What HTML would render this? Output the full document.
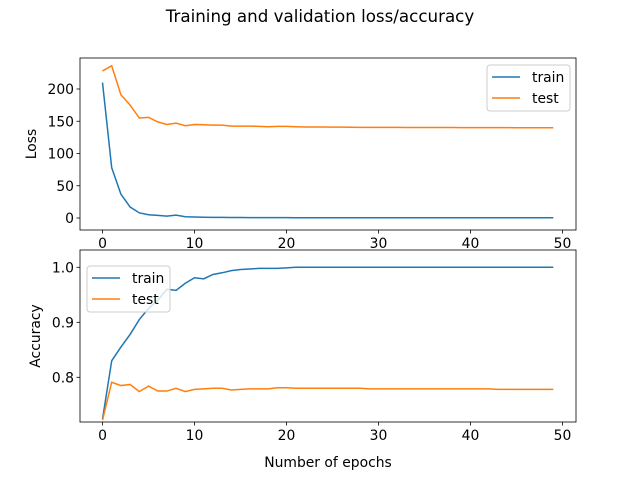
<!DOCTYPE html>
<html><head><meta charset="utf-8"><style>
body{margin:0;background:#fff}
svg{font-family:"DejaVu Sans","Liberation Sans",sans-serif;display:block}
</style></head><body>
<svg id="c" width="640" height="480" xmlns="http://www.w3.org/2000/svg"></svg>
<script>
const epochs = Array.from({length:50},(_,i)=>i);
const lossTrain=[210,78,37,17,8,5,4,3,4.5,2,1.5,1.2,1,0.9,0.8,0.7,0.6,0.6,0.5,0.5,0.5,0.4,0.4,0.4,0.4,0.3,0.3,0.3,0.3,0.3,0.3,0.3,0.3,0.3,0.3,0.3,0.3,0.3,0.3,0.3,0.3,0.3,0.3,0.3,0.3,0.3,0.3,0.3,0.3,0.3];
const lossTest=[228,236,191,175,155,156,149,145,147,143,145,144.5,144,144,142.5,142.5,142.5,142,141.5,142,142,141.5,141,141,141,140.8,140.8,140.7,140.6,140.5,140.5,140.5,140.5,140.4,140.4,140.4,140.3,140.3,140.3,140.2,140.2,140.2,140.2,140.1,140.1,140,140,140,140,140];
const accTrain=[0.724,0.83,0.855,0.878,0.905,0.925,0.94,0.96,0.958,0.971,0.981,0.979,0.987,0.99,0.994,0.996,0.997,0.998,0.998,0.998,0.999,1,1,1,1,1,1,1,1,1,1,1,1,1,1,1,1,1,1,1,1,1,1,1,1,1,1,1,1,1];
const accTest=[0.722,0.791,0.785,0.787,0.774,0.784,0.775,0.775,0.780,0.774,0.778,0.779,0.780,0.780,0.777,0.778,0.779,0.779,0.779,0.781,0.781,0.780,0.780,0.780,0.780,0.780,0.780,0.780,0.780,0.779,0.779,0.779,0.779,0.779,0.779,0.779,0.779,0.779,0.779,0.779,0.779,0.779,0.779,0.778,0.778,0.778,0.778,0.778,0.778,0.778];
const xTicks=[0,10,20,30,40,50];
const lossTicks=[0,50,100,150,200];
const accTicks=[0.8,0.9,1.0];
const NS="http://www.w3.org/2000/svg";
const svg=document.getElementById('c');
function el(t,a,p){const e=document.createElementNS(NS,t);for(const k in a)e.setAttribute(k,a[k]);(p||svg).appendChild(e);return e;}
const L=80,R=576,FS=13.9;
const x=v=>102.5+v*9.2;
function panel(name,top,bot,y,ticks,fmt,s1,s2,ylabel,ylx,legX,legY){
  const g=el('g',{});
  const clip='clip-'+name;
  const cp=el('clipPath',{id:clip},g);el('rect',{x:L,y:top,width:R-L,height:bot-top},cp);
  [[s1,'#1f77b4','train'],[s2,'#ff7f0e','test']].forEach(([s,c,n])=>{
    const p=el('polyline',{points:s.map((v,i)=>x(epochs[i])+','+y(v)).join(' '),fill:'none',stroke:c,'stroke-width':1.5,'clip-path':`url(#${clip})`},g);
    
  });
  el('rect',{x:L,y:top,width:R-L,height:bot-top,fill:'none',stroke:'#000','stroke-width':0.8},g);
  xTicks.forEach(t=>{el('line',{x1:x(t),x2:x(t),y1:bot,y2:bot+3.5,stroke:'#000','stroke-width':0.8},g);
    const tx=el('text',{x:x(t),y:bot+18,'font-size':FS,'text-anchor':'middle'},g);tx.textContent=t;
    });
  ticks.forEach(t=>{el('line',{x1:L-3.5,x2:L,y1:y(t),y2:y(t),stroke:'#000','stroke-width':0.8},g);
    const tx=el('text',{x:L-6,y:y(t)+5,'font-size':FS,'text-anchor':'end'},g);tx.textContent=fmt(t);
    });
  const yl=el('text',{x:0,y:0,'font-size':FS,'text-anchor':'middle',transform:`translate(${ylx},${(top+bot)/2}) rotate(-90)`},g);yl.textContent=ylabel;
  
  const lg=el('g',{},g);
  el('rect',{x:legX,y:legY,width:83,height:46,rx:3,fill:'#fff','fill-opacity':0.8,stroke:'#ccc'},lg);
  [['train','#1f77b4'],['test','#ff7f0e']].forEach(([n,c],i)=>{
    const yy=legY+12+i*21;
    el('line',{x1:legX+5,x2:legX+33,y1:yy,y2:yy,stroke:c,'stroke-width':1.5},lg);
    const t=el('text',{x:legX+45,y:yy+5,'font-size':FS},lg);t.textContent=n;
    
  });
}
panel('loss',58,230,v=>218-v*0.645,lossTicks,t=>t,lossTrain,lossTest,'Loss',36,487,65);
panel('accuracy',250,422,v=>377.3-(v-0.8)*550,accTicks,t=>t.toFixed(1),accTrain,accTest,'Accuracy',40,87,266);
const ti=el('text',{x:320,y:22,'font-size':16.7,'text-anchor':'middle'});ti.textContent='Training and validation loss/accuracy';

const xl=el('text',{x:328,y:467,'font-size':FS,'text-anchor':'middle'});xl.textContent='Number of epochs';

</script>
</body></html>
